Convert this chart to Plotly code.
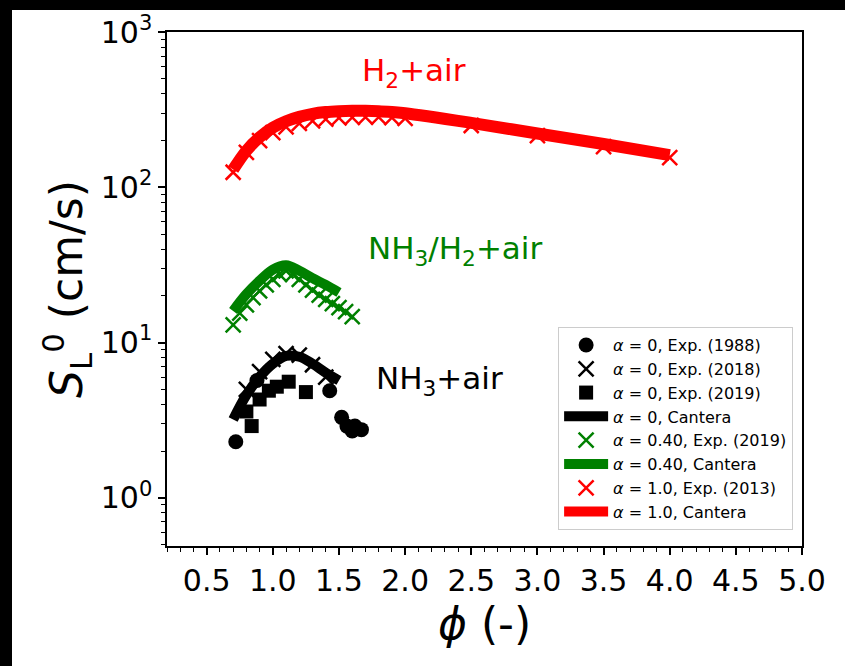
import plotly.graph_objects as go
import math

# ---------------- data ----------------
phi_nh3_1988 = [0.72, 0.88, 1.43, 1.52, 1.56, 1.60, 1.62, 1.67]
s_nh3_1988 = [2.3, 5.7, 4.9, 3.3, 2.9, 2.7, 2.9, 2.75]

phi_nh3_2018 = [0.80, 0.90, 1.00, 1.10, 1.20, 1.30, 1.40]
s_nh3_2018 = [5.0, 6.5, 7.8, 8.5, 8.3, 7.2, 6.0]

phi_nh3_2019 = [0.80, 0.84, 0.90, 0.97, 1.03, 1.12, 1.25]
s_nh3_2019 = [3.6, 2.9, 4.3, 4.9, 5.2, 5.6, 4.8]

phi_nh3_cant = [0.7, 0.8, 0.9, 1.0, 1.1, 1.2, 1.3, 1.4, 1.5]
s_nh3_cant = [3.2, 4.6, 6.0, 7.3, 8.2, 8.1, 7.3, 6.4, 5.7]

phi_mix_exp = [0.70, 0.75, 0.80, 0.85, 0.90, 0.95, 1.00, 1.05, 1.10, 1.15,
               1.20, 1.25, 1.30, 1.35, 1.40, 1.45, 1.50, 1.55, 1.60]
s_mix_exp = [13.0, 15.5, 17.5, 19.5, 21.5, 23.5, 25.5, 27.5, 29.0, 27.5,
             25.5, 23.5, 21.8, 20.2, 19.0, 17.8, 16.8, 15.8, 14.7]

phi_mix_cant = [0.7, 0.8, 0.9, 1.0, 1.1, 1.2, 1.3, 1.4, 1.5]
s_mix_cant = [16.0, 20.5, 25.0, 29.5, 31.5, 29.0, 26.0, 23.5, 21.0]

phi_h2_exp = [0.7, 0.8, 0.9, 1.0, 1.1, 1.2, 1.3, 1.4, 1.5, 1.6, 1.7, 1.8, 1.9, 2.0,
              2.5, 3.0, 3.5, 4.0]
s_h2_exp = [125, 168, 200, 225, 245, 258, 268, 275, 280, 282, 283, 283, 281, 278,
            250, 215, 183, 155]

phi_h2_cant = [0.7, 0.8, 0.9, 1.0, 1.1, 1.2, 1.3, 1.4, 1.5, 1.6, 1.7, 1.8, 1.9, 2.0,
               2.5, 3.0, 3.5, 4.0]
s_h2_cant = [130, 172, 210, 242, 266, 284, 297, 305, 309, 311, 311, 309, 305, 300,
             260, 222, 190, 161]

x_ticks = [0.5, 1.0, 1.5, 2.0, 2.5, 3.0, 3.5, 4.0, 4.5, 5.0]
y_ticks = [1, 10, 100, 1000]
y_ticktext = ["10<sup>0</sup>", "10<sup>1</sup>", "10<sup>2</sup>", "10<sup>3</sup>"]

# ---------------- layout constants ----------------
W, H = 845, 666
ML, MR, MT, MB = 167, 43, 32, 120
PW, PH = W - ML - MR, H - MT - MB
FONT = "DejaVu Sans"

fig = go.Figure()

def xmark(x, y, color, name, size=15):
    return go.Scatter(x=x, y=y, mode="markers", name=name,
                      marker=dict(symbol="x-thin", size=size, color=color,
                                  line=dict(width=2.5, color=color)))

fig.add_trace(go.Scatter(x=phi_nh3_1988, y=s_nh3_1988, mode="markers",
                         name="<i>α</i> = 0, Exp. (1988)",
                         marker=dict(symbol="circle", size=15, color="black")))
fig.add_trace(xmark(phi_nh3_2018, s_nh3_2018, "black", "<i>α</i> = 0, Exp. (2018)"))
fig.add_trace(go.Scatter(x=phi_nh3_2019, y=s_nh3_2019, mode="markers",
                         name="<i>α</i> = 0, Exp. (2019)",
                         marker=dict(symbol="square", size=14, color="black")))
fig.add_trace(go.Scatter(x=phi_nh3_cant, y=s_nh3_cant, mode="lines",
                         name="<i>α</i> = 0, Cantera",
                         line=dict(color="black", width=10, shape="spline")))
fig.add_trace(xmark(phi_mix_exp, s_mix_exp, "green", "<i>α</i> = 0.40, Exp. (2019)"))
fig.add_trace(go.Scatter(x=phi_mix_cant, y=s_mix_cant, mode="lines",
                         name="<i>α</i> = 0.40, Cantera",
                         line=dict(color="green", width=10, shape="spline")))
fig.add_trace(xmark(phi_h2_exp, s_h2_exp, "red", "<i>α</i> = 1.0, Exp. (2013)"))
fig.add_trace(go.Scatter(x=phi_h2_cant, y=s_h2_cant, mode="lines",
                         name="<i>α</i> = 1.0, Cantera",
                         line=dict(color="red", width=12, shape="spline")))

for i, tr in enumerate(fig.data):
    tr.legendgroup = f"g{i}"

# black frame strips at top and left of the picture (kept inside the page)
px2x = lambda p: (p - ML) / PW
py2y = lambda p: (H - MB - p) / PH
shapes = [
    dict(type="rect", xref="paper", yref="paper", x0=px2x(0), x1=px2x(12),
         y0=py2y(H), y1=py2y(0), fillcolor="black", line=dict(width=0), layer="above"),
    dict(type="rect", xref="paper", yref="paper", x0=px2x(0), x1=px2x(W),
         y0=py2y(10), y1=py2y(0), fillcolor="black", line=dict(width=0), layer="above"),
]

annotations = [
    dict(text="H<sub>2</sub>+air", x=2.07, y=2.74, xref="x", yref="y", showarrow=False,
         font=dict(family=FONT, size=31, color="red")),
    dict(text="NH<sub>3</sub>/H<sub>2</sub>+air", x=2.38, y=1.594, xref="x", yref="y",
         showarrow=False, font=dict(family=FONT, size=31, color="green")),
    dict(text="NH<sub>3</sub>+air", x=2.26, y=0.758, xref="x", yref="y", showarrow=False,
         font=dict(family=FONT, size=31, color="black")),
]

fig.update_layout(
    width=W, height=H,
    margin=dict(l=ML, r=MR, t=MT, b=MB, pad=0),
    paper_bgcolor="white", plot_bgcolor="white",
    font=dict(family=FONT, color="black"),
    showlegend=True,
    legend=dict(x=0.986, xanchor="right", y=0.031, yanchor="bottom",
                bgcolor="white", bordercolor="#cccccc", borderwidth=1,
                font=dict(family=FONT, size=16, color="black"),
                traceorder="grouped", tracegroupgap=0, itemwidth=44),
    shapes=shapes,
    annotations=annotations,
)

minor_y = [m * 10 ** e for e in range(-1, 3) for m in range(2, 10)]
minor_y = [v for v in minor_y if v >= 0.49]

fig.update_xaxes(
    range=[0.2, 5.0], tickmode="array", tickvals=x_ticks,
    ticktext=[f"{v:.1f}" for v in x_ticks],
    ticks="outside", ticklen=7, tickwidth=1.5, tickcolor="black",
    minor=dict(ticks="outside", ticklen=4, tickwidth=1, tickcolor="black", dtick=0.1, tick0=0),
    showline=True, linecolor="black", linewidth=1.5, mirror=True,
    showgrid=False, zeroline=False,
    tickfont=dict(family=FONT, size=30, color="black"),
    title=dict(text="<i>ϕ</i> (-)", font=dict(family=FONT, size=44, color="black"), standoff=4),
)
fig.update_yaxes(
    type="log", range=[math.log10(0.49), 3],
    tickmode="array", tickvals=y_ticks, ticktext=y_ticktext,
    ticks="outside", ticklen=7, tickwidth=1.5, tickcolor="black",
    minor=dict(ticks="outside", ticklen=4, tickwidth=1, tickcolor="black",
               tickmode="array", tickvals=minor_y),
    showline=True, linecolor="black", linewidth=1.5, mirror=True,
    showgrid=False, zeroline=False,
    tickfont=dict(family=FONT, size=30, color="black"),
    title=dict(text="<i>S</i><sub>L</sub><sup>0</sup> (cm/s)",
               font=dict(family=FONT, size=44, color="black"), standoff=4),
)

fig.write_html(
    "out.html",
    post_script="document.documentElement.style.overflow='hidden';"
                "document.body.style.overflow='hidden';document.body.style.margin='0';",
)
